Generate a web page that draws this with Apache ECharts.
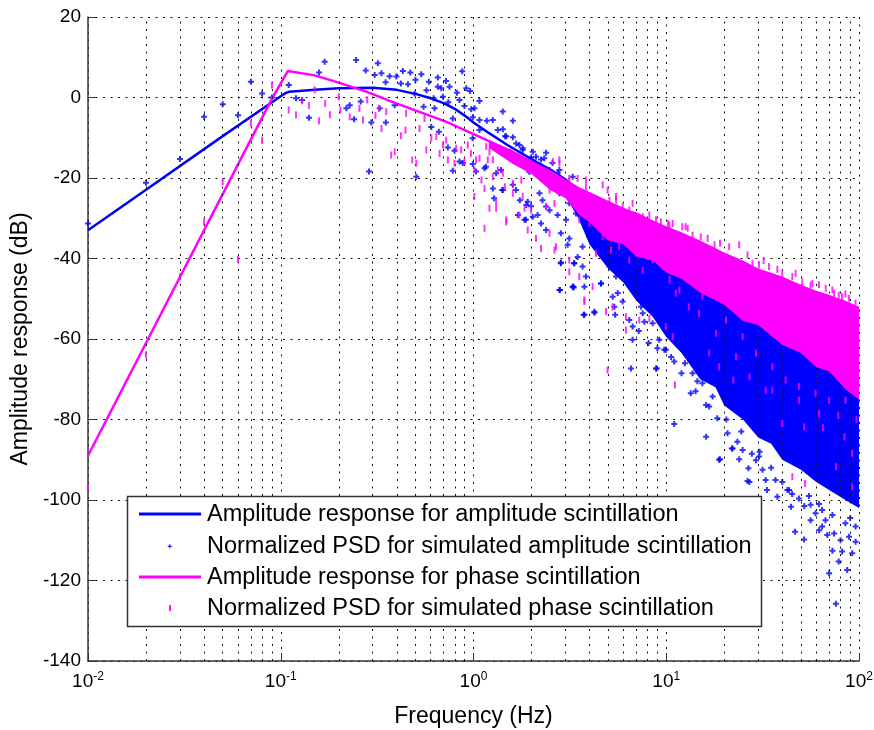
<!DOCTYPE html>
<html><head><meta charset="utf-8">
<script src="https://cdn.jsdelivr.net/npm/echarts@6/dist/echarts.min.js"></script>
<style>html,body{margin:0;padding:0;background:#fff}#c{width:874px;height:730px}</style>
</head><body><div id="c"></div>
<script>
const FONT = "'Liberation Sans', Arial, Helvetica, sans-serif";
const BLUE = '#0000ff', MAG = '#ff00ff';

// ---------- axis ticks ----------
const xMajorTicks = [0.01, 0.1, 1, 10, 100];
const xMinorGrid = [0.02,0.03,0.04,0.05,0.06,0.07,0.08,0.09,0.2,0.3,0.4,0.5,0.6,0.7,0.8,0.9,2,3,4,5,6,7,8,9,20,30,40,50,60,70,80,90];
const yTicks = [-140,-120,-100,-80,-60,-40,-20,0,20];

// ---------- amplitude response (blue line) ----------
const ampRespFreq = [0.01,0.02,0.05,0.1,0.105,0.11,0.13,0.15,0.2,0.3,0.4,0.5,0.6,0.7,0.8,0.9,1.0,1.2,1.5,2,3,5,10,20,50,100];
const ampRespDb   = [-33,-22.9,-9.6,0.3,1.0,1.4,1.7,1.9,2.3,2.4,1.9,0.9,-0.2,-1.4,-2.8,-4.5,-6.2,-8.8,-11.8,-15.3,-21,-28.5,-39,-50,-65,-76];

// ---------- phase response (magenta line) ----------
const phRespFreq = [0.01,0.02,0.03,0.05,0.07,0.09,0.1,0.109,0.15,0.2,0.28,0.37,0.52,0.72,1.07,1.6,2.4,3.5,5,10,20,50,100];
const phRespDb   = [-89,-61,-44.6,-24,-10.4,-0.3,3.5,6.6,5.5,3.7,1.4,-0.9,-3.5,-6,-9.7,-13.5,-18,-22.5,-26,-32.5,-39.5,-47.5,-53.5];

// ---------- amplitude PSD points (blue +) ----------
const ampPsdLow = [[0.01,-31.3],[0.02,-21.2],[0.03,-15.3],[0.04,-4.8],[0.05,-1.7],[0.06,-4.4],[0.07,3.9],[0.08,1.0],[0.09,0.0],[0.11,3.1],[0.12,-0.2]];
const ampPsdMid = [[0.169,8.9],[0.246,9.3],[0.319,8.5],[0.158,6.2],[0.276,6.7],[0.307,5.6],[0.333,6.0],[0.367,5.3],[0.398,5.2],[0.43,6.6],[0.47,6.2],[0.536,5.8],[0.653,5.0],[0.874,6.5],[0.129,-0.6],[0.14,-5.0],[0.219,-2.7],[0.228,-1.9],[0.24,-5.4],[0.26,-1.0],[0.295,-6.2],[0.326,-2.7],[0.351,-6.2],[0.39,-1.9],[0.42,3.5],[0.457,3.3],[0.495,1.0],[0.551,-2.3],[0.587,3.9],[0.621,-0.2],[0.628,-2.7],[0.653,2.7],[0.694,0.2],[0.68,2.3],[0.751,2.7],[0.781,-5.2],[0.846,-0.6],[0.917,2.3],[0.96,1.6],[0.898,-2.1],[0.973,-2.9],[0.992,-4.9],[0.604,-7.3],[0.661,-8.5],[0.736,-12.4],[0.797,-13.2],[0.846,-15.9],[0.88,-16.3],[0.992,-16.5],[0.781,-18.2],[0.505,-19.7],[0.287,-18.4],[0.35,3.8],[0.5,4.4],[0.72,4.1],[0.57,1.8],[0.74,-1.2],[0.82,1.2]];
const ampPsdHigh = [[1.012,-2.7],[1.074,-0.9],[1.074,-5.6],[1.172,-5.8],[1.259,-5.6],[1.419,-3.5],[1.6,-5.8],[1.337,-8.1],[1.477,-9.6],[1.6,-9.9],[1.665,-11.4],[1.8,-12.6],[2.03,-13.5],[2.11,-14.7],[2.33,-15.1],[2.57,-16.3],[2.79,-18],[3.27,-19.7],[1.16,-17.2],[1.31,-18.8],[1.26,-22.6],[1.41,-23],[1.6,-21.7],[1.74,-25.5],[1.88,-26.7],[1.84,-30.4],[2.03,-29.6],[2.24,-31.3],[2.38,-27.1],
  [0.99,-10.1],[1.074,-8.1],[1.42,-7.9],[1.46,-9.6],[1.73,-11.8],[1.8,-13.0],[2.38,-13.7],[2.24,-15.4],[1.99,-14.9],[2.09,-16.3],[2.48,-18.0],[2.73,-18.8],[1.03,-18.4],[1.14,-17.6],[1.39,-18.0],[1.42,-23.0],[1.28,-25.0],[1.66,-23.0],[1.91,-25.9],[1.70,-29.2],[1.87,-30.4],[1.99,-27.0],[2.15,-29.2],[2.2,-23.8],[2.28,-25.5],[2.48,-28.0],[2.73,-29.2],[2.38,-32.9],[2.84,-33.7],[3.08,-36.6],[3.14,-35.0],[2.84,-41.2],[3.33,-41.2],[3.68,-42.0],[3.83,-44.5],[3.27,-47.0],[2.79,-47.8],[3.76,-47.0],[4.59,-46.2],[4.24,-53.5],[3.76,-54.0],[5.27,-49.5],[5.6,-48.6],[5.94,-50.7],[6.43,-55.3],[6.69,-56.9],[7.7,-55.7],[8.5,-56.1],[7.4,-52.0],[7.55,-53.6],[10.4,-58.6],[3.4,-28.8],[3.99,-30.4],[4.32,-32.9],[4.68,-35.4],[4.87,-38.3],[5.27,-40.4],[5.7,-42.9],[6.18,-44.5],[6.69,-45.3],[6.96,-47.0],[7.85,-48.6],[8.85,-50.3],[9.59,-52.0],[10.8,-52.8],[12.1,-55.3],[11.4,-50.3],[4.5,-38.7],[5.07,-42.0],[5.49,-44.5],[2.58,-22.2],[2.79,-23.8],[3.14,-26.3],[3.54,-26.3],[3.76,-28.0],[3.99,-34.6],[4.32,-37.1],[3.68,-37.1],[3.47,-39.6],[3.02,-30.4],[2.6,-20.5],[2.95,-22.5],[3.2,-24],[1.55,-13.5],[1.95,-18.5],[2.3,-20.5]];
const ampPsdFringe = [[2.84,-41],[3.33,-41.2],[2.81,-47.8],[3.31,-47.2],[3.29,-47],[3.73,-54],[4.24,-53.2],[4.59,-46.2],[5.43,-54],[6.56,-67.3],[8.9,-67.3],[11,-81.1],[5.38,-52],[6.69,-60.2],[9.0,-62.3],[9.95,-62.7],[13.4,-73.5],[16.1,-76.4],[18.8,-90],[22.1,-87.2],[27,-95.5],[33.3,-97.5],[43.4,-97.5],[16.1,-84.3],[19.0,-89.9],[21.9,-87.2],[23.9,-89.9],[26.7,-92.1],[26.4,-95.3],[37.7,-99.2],[44.4,-101.7],[46.6,-107.9],[51.9,-109.8],[72.8,-112.6],[81.7,-112.8],[92.2,-113.2],[78.5,-115.3],[86.9,-117.4],[70,-118.2],[75.9,-125.8],[96,-110.4],[9.77,-62.7],[11,-65.6],[13.7,-68.5],[15.4,-71],[17.4,-74.3],[9.2,-60.2],[8.86,-67.3],[96,-106.6],[85,-105.8],[68.5,-108.7],[59.5,-103.3],[64.4,-106.6],[30.5,-88],[35,-92],[40,-95.5],[55,-99],[62,-101],[12.5,-66],[14.5,-70.5],[20.5,-80],[24.5,-83],
  [16.7,-76.8],[18.4,-79.7],[20.8,-83.4],[23.4,-85.5],[24.9,-87.6],[29.2,-90.1],[31.6,-92.5],[36.9,-95],[42.5,-97.5],[48.8,-99.6],[56.1,-101.2],[64.4,-102.5],[72.8,-103.7],[56.1,-105],[62.1,-107.5],[74.3,-108.3],[80.2,-110],[88.8,-109.1],[30.3,-89.2],[32.8,-95],[7.2,-58],[8.1,-61],[10.6,-64.5],[12,-68.5],[14.2,-73],[27.8,-88.5],[45,-98.5],[52,-101.5],[67,-105],[90,-104.5]];

// ---------- dense amplitude PSD cloud (upper / lower limits) ----------
const ampBandFreq  = [2,   2.5,  3,    3.5,  4,    5,    6,    7,    8.5,  10,   12,   15,  18,   20,   25,  30,   35,  40,   50,   60,   70,   85,  100];
const ampBandUpper = [-15,-17.5,-20,  -22.5,-24.5,-27.5,-29.5,-31.5,-33.5,-35.5,-38.5,-42, -44.5,-46,  -49, -52,  -54, -56,  -59,  -62,  -64,  -67, -70];
const ampBandLower = [-16,-19.5,-24.5,-30,  -36.5,-42.5,-46,  -50.5,-54.5,-59.5,-63.5,-70, -72,  -76.5,-80,-84.5,-86,-90,  -92.5,-95.5,-97.5,-100,-102];

// ---------- phase PSD points (magenta |) ----------
const phPsdLow = [[0.01,-96.8],[0.02,-64],[0.03,-44.5],[0.04,-30.9],[0.05,-20.9],[0.06,-40.2],[0.07,-6.4],[0.08,-10.6],[0.09,3.1],[0.11,-3.1],[0.12,-4.3]];
const phPsdMid = [[0.129,-0.8],[0.15,1.9],[0.158,-5.8],[0.18,-4.3],[0.2,0.2],[0.204,-3.1],[0.228,-4.8],[0.256,-2.7],[0.267,-5.6],[0.281,-0.6],[0.323,-2.7],[0.353,-3.5],[0.333,-7.7],[0.374,-14.3],[0.39,-13.5],[0.447,-3.9],[0.444,-8.1],[0.481,-15.5],[0.505,-16.3],[0.525,-7.7],[0.557,-5.2],[0.569,-13],[0.604,-10.1],[0.641,-9.7],[0.667,-13.9],[0.694,-11.8],[0.722,-10.6],[0.736,-15.5],[0.797,-16.3],[0.813,-12.6],[0.863,-13],[0.898,-15.9],[0.934,-11.8],[0.97,-13.9],[0.14,-2.0],[0.17,-1.5],[0.31,-4.5],[0.42,-9.5]];
const phPsdHigh = [[1.012,-18],[1.074,-15.1],[1.164,-12.2],[1.186,-15.5],[1.259,-19.7],[1.337,-18],[1.31,-25.9],[1.455,-22.2],[1.477,-30.9],[1.6,-23.8],[1.73,-29.2],[1.03,-15.5],[1.1,-20.5],[1.01,-24.6],[1.14,-22.6],[1.21,-27.5],[1.31,-27.5],[1.14,-32.5],[1.48,-30.4],[1.21,-13.5],[1.26,-15.5],[1.42,-18.8],[1.6,-21.3],[1.77,-20.5],[1.8,-24.6],[1.84,-27.5],[1.99,-28.0],[1.91,-32.9],[2.11,-35.0],[2.24,-37.5],[2.48,-33.7],[2.68,-37.1],[1.99,-16.3],[2.2,-18.0],[2.48,-23.0],[2.38,-27.1],[2.63,-26.3],[2.79,-16.3],[3.14,-22.2],[3.4,-24.6],[3.83,-20.5],[4.32,-25.5],[5.07,-25.5],[5.49,-25.5],[5.94,-27.1],[6.43,-28.0],[7.55,-29.6],[8.85,-30.4],[10.8,-31.3],[3.14,-40.4],[3.54,-44.5],[3.76,-50.3],[3.14,-43.3],[4.87,-53.2],[5.27,-52.0],[6.18,-54.5],[7.25,-55.3],[8.17,-54.9],[9.95,-56.9],[4.32,-38.7],[4.68,-34.6],[5.17,-37.9],[5.7,-37.1],[6.43,-40.4],[6.96,-38.7],[7.55,-42.9],[8.5,-40.4],[9.59,-42.0],[10.4,-45.3],[11.2,-48.6],[3.99,-31.3],[3.54,-30.4],[2.63,-37.9],[4.96,-67.7],[4.15,-47],[11.1,-71.4],[6.18,-57.8],[3.76,-50.7]];
const phPsdTop = [[2.58,-15.9],[2.79,-15.5],[3.14,-20.1],[3.47,-20.1],[3.83,-22.2],[4.68,-21.7],[4.96,-23.0],[5.49,-24.6],[6.69,-26.3],[8.17,-29.2],[10.2,-31.3],[12.6,-32.1],[15.1,-34.6],[21.2,-37.1],[23.9,-36.6],[28,-41.2],[34.1,-42],[40,-43.7],[46.9,-43.7],[57.3,-46.2],[72.8,-47.8],[81.7,-49.5],[95.9,-51.1],[9.38,-30.9],[10.4,-31.7],[12.1,-32.1],[12.9,-32.5],[13.7,-34.2],[16.4,-35],[17.8,-36.6],[26.4,-39.1],[30.3,-41.6],[37.7,-42.7],[45.1,-44.5],[50.8,-45.8],[56.1,-46.6],[67.2,-47.4],[74.3,-48.6],[78.5,-49.1],[88.8,-49.9],[19,-36.2],[32,-40.5],[62,-46.5],[85,-48.8]];
const phPsdMixed = [[15.4,-49.5],[20.4,-55.3],[24.9,-59.4],[29.2,-63.5],[35.5,-66.9],[41.6,-70.2],[48.8,-71.8],[59.5,-73.5],[14.8,-53.6],[18.1,-58.6],[23,-64.4],[27,-69.4],[32.8,-72.7],[11.7,-47.8],[13.1,-52],[18.8,-66.9],[22.3,-70.2],[10.8,-59.4],[16.7,-63.5],[35.5,-72.7],[51.9,-81.8],[62.1,-78.5],[83.9,-84.3],[92.2,-88.4],[92.2,-96.7],[75.9,-91.7],[45.1,-94.2],[52.4,-95.9],[40,-81],[48.8,-75.2],[70,-75.2],[85,-75.2],[65,-82],[97,-80],[78,-79]];

// ---------- dense phase PSD cloud (upper / lower limits) ----------
const phBandFreq  = [1.2,  1.6,  2,    2.5,  3,    3.5,  4,    5,    6,    7,    8.5,  10,   12,   15,   20,   25,   30,   40,   50,   60,   70,   85,   100];
const phBandUpper = [-11,  -13.5,-16,  -18,  -20.5,-22.5,-24,  -26,  -27.5,-28.5,-30.5,-32,  -33.5,-35.5,-38.5,-40.5,-42.5,-44.5,-46.5,-48,  -49,  -50.5,-52];
const phBandLower = [-12.5,-16.5,-19,  -23,  -25,  -29,  -31,  -35.5,-36.5,-39.5,-40.5,-43.5,-45,  -48.5,-51.5,-55.5,-56.5,-61.5,-63.5,-67,  -68,  -72.5,-75];

const legendLabels = ['Amplitude response for amplitude scintillation','Normalized PSD for simulated amplitude scintillation','Amplitude response for phase scintillation','Normalized PSD for simulated phase scintillation'];

// ---------- build ----------
const zip = (a, b) => a.map((v, i) => [v, b[i]]);
const gridDot = { color: '#111', width: 1, type: [2, 5.5] };
const PLUS = 'path://M2,0H4V2H6V4H4V6H2V4H0V2H2Z';

function band(name, f, up, lo, color, z) {
  return {
    type: 'custom', name: name, silent: true, animation: false, z: z,
    data: [[1, 0]], encode: { x: 0, y: 1 },
    renderItem: function (params, api) {
      const pts = [];
      for (let i = 0; i < f.length; i++) pts.push(api.coord([f[i], up[i]]));
      for (let i = f.length - 1; i >= 0; i--) pts.push(api.coord([f[i], lo[i]]));
      return { type: 'polygon', shape: { points: pts }, style: { fill: color } };
    }
  };
}

const chart = echarts.init(document.getElementById('c'), null, { renderer: 'canvas' });
const option = {
  backgroundColor: '#fff',
  animation: false,
  grid: { left: 88, right: 15, top: 17, bottom: 69, containLabel: false, outerBoundsMode: 'none' },
  xAxis: {
    type: 'log', logBase: 10, min: 0.01, max: 100, splitNumber: 4,
    name: 'Frequency (Hz)', nameLocation: 'middle', nameGap: 44,
    nameTextStyle: { fontFamily: FONT, fontSize: 23, color: '#000' },
    axisLine: { onZero: false, lineStyle: { color: '#333', width: 1.5 } },
    axisTick: { inside: true, length: 8, lineStyle: { color: '#333' } },
    splitLine: { show: true, lineStyle: gridDot },
    axisLabel: {
      margin: 10, showMinLabel: true, showMaxLabel: true,
      formatter: function (v) { return '{b|10}{s|' + Math.round(Math.log10(v)) + '}'; },
      rich: {
        b: { fontFamily: FONT, fontSize: 19, color: '#000', lineHeight: 22 },
        s: { fontFamily: FONT, fontSize: 12, color: '#000', lineHeight: 12, verticalAlign: 'top' }
      }
    }
  },
  yAxis: {
    type: 'value', min: -140, max: 20, interval: 20,
    name: 'Amplitude response (dB)', nameLocation: 'middle', nameGap: 53,
    nameTextStyle: { fontFamily: FONT, fontSize: 23, color: '#000' },
    axisLine: { show: true, onZero: false, lineStyle: { color: '#333', width: 1.5 } },
    axisTick: { show: true, inside: true, length: 8, lineStyle: { color: '#333' } },
    splitLine: { show: true, lineStyle: gridDot },
    axisLabel: { margin: 7, fontFamily: FONT, fontSize: 19, color: '#000' }
  },
  series: [
    { type: 'line', name: 'grid-minor', silent: true, symbol: 'none', z: 1,
      data: [[0.01, -200], [100, -200]], lineStyle: { opacity: 0 },
      markLine: { silent: true, symbol: ['none', 'none'], label: { show: false }, animation: false,
        lineStyle: gridDot, emphasis: { disabled: true },
        data: xMinorGrid.map(v => ({ xAxis: v })) } },
    { type: 'line', name: legendLabels[0], z: 2, data: zip(ampRespFreq, ampRespDb), symbol: 'none',
      lineStyle: { color: BLUE, width: 2.5 }, itemStyle: { color: BLUE } },
    band('ampBand', ampBandFreq, ampBandUpper, ampBandLower, BLUE, 3),
    { type: 'scatter', name: legendLabels[1], z: 3, symbol: PLUS, symbolSize: 6, itemStyle: { color: BLUE },
      data: ampPsdLow.concat(ampPsdMid, ampPsdHigh, ampPsdFringe) },
    { type: 'line', name: legendLabels[2], z: 4, data: zip(phRespFreq, phRespDb), symbol: 'none',
      lineStyle: { color: MAG, width: 2.5 }, itemStyle: { color: MAG } },
    band('phBand', phBandFreq, phBandUpper, phBandLower, MAG, 5),
    { type: 'scatter', name: legendLabels[3], z: 5, symbol: 'rect', symbolSize: [2, 7], itemStyle: { color: MAG },
      data: phPsdLow.concat(phPsdMid, phPsdHigh, phPsdTop, phPsdMixed) }
  ],
  graphic: [
    { type: 'rect', z: 100, shape: { x: 127.5, y: 496.5, width: 634, height: 130 }, style: { fill: '#fff', stroke: '#333', lineWidth: 1.5 } },
    { type: 'line', z: 101, shape: { x1: 139, y1: 514, x2: 201, y2: 514 }, style: { stroke: BLUE, lineWidth: 3 } },
    { type: 'polygon', z: 101, shape: { points: [[167.7,545.7],[169.3,545.7],[169.3,544.2],[170.3,544.2],[170.3,545.7],[171.9,545.7],[171.9,546.7],[170.3,546.7],[170.3,548.2],[169.3,548.2],[169.3,546.7],[167.7,546.7]] }, style: { fill: BLUE } },
    { type: 'line', z: 101, shape: { x1: 139, y1: 577, x2: 201, y2: 577 }, style: { stroke: MAG, lineWidth: 3 } },
    { type: 'rect', z: 101, shape: { x: 169.2, y: 605, width: 1.8, height: 6 }, style: { fill: MAG } },
    { type: 'text', z: 101, x: 207, y: 515, style: { text: legendLabels[0], font: '23.5px ' + FONT, fill: '#000', textVerticalAlign: 'middle', verticalAlign: 'middle' } },
    { type: 'text', z: 101, x: 207, y: 547, style: { text: legendLabels[1], font: '23.5px ' + FONT, fill: '#000', textVerticalAlign: 'middle', verticalAlign: 'middle' } },
    { type: 'text', z: 101, x: 207, y: 578, style: { text: legendLabels[2], font: '23.5px ' + FONT, fill: '#000', textVerticalAlign: 'middle', verticalAlign: 'middle' } },
    { type: 'text', z: 101, x: 207, y: 609, style: { text: legendLabels[3], font: '23.5px ' + FONT, fill: '#000', textVerticalAlign: 'middle', verticalAlign: 'middle' } }
  ]
};
chart.setOption(option);
</script></body></html>
